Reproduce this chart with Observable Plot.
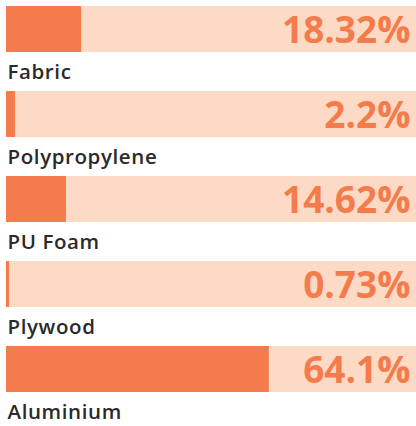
<!DOCTYPE html>
<html><head><meta charset="utf-8">
<script src="https://cdn.jsdelivr.net/npm/d3@7"></script>
<script src="https://cdn.jsdelivr.net/npm/@observablehq/plot@0.6"></script>
<style>body{margin:0;background:#fff} .lbl text{letter-spacing:0.6px}</style>
</head><body><div id="chart"></div>
<script>
const materials = ["Fabric","Polypropylene","PU Foam","Plywood","Aluminium"];
const shares = [18.32, 2.2, 14.62, 0.73, 64.1];
const shareLabels = ["18.32%","2.2%","14.62%","0.73%","64.1%"];
const data = materials.map((m,i)=>({material:m, share:shares[i], label:shareLabels[i], full:100}));
const orange = "#f47c4c", peach = "#fddac6";
const chart = Plot.plot({
  width: 416, height: 426,
  marginTop: 6, marginBottom: 32, marginLeft: 6, marginRight: 0,
  x: {domain:[0,100], axis:null},
  y: {domain: materials, axis:null, paddingInner:0.462, paddingOuter:0, align:0},
  marks: [
    Plot.barX(data, {x:"full", y:"material", fill:peach}),
    Plot.barX(data, {x:"share", y:"material", fill:orange}),
    Plot.text(data, {x:100, y:"material", text:"label", textAnchor:"end", lineAnchor:"bottom", dx:-6, dy:13, fill:orange, fontSize:37, fontWeight:700, fontFamily:"Open Sans"}),
    Plot.text(data, {x:0, y:"material", text:"material", textAnchor:"start", lineAnchor:"bottom", dx:1, dy:49, fill:"#2a2a2a", fontSize:20.5, fontWeight:600, fontFamily:"Open Sans", className:"lbl"})
  ]
});
document.getElementById("chart").append(chart);
</script></body></html>
